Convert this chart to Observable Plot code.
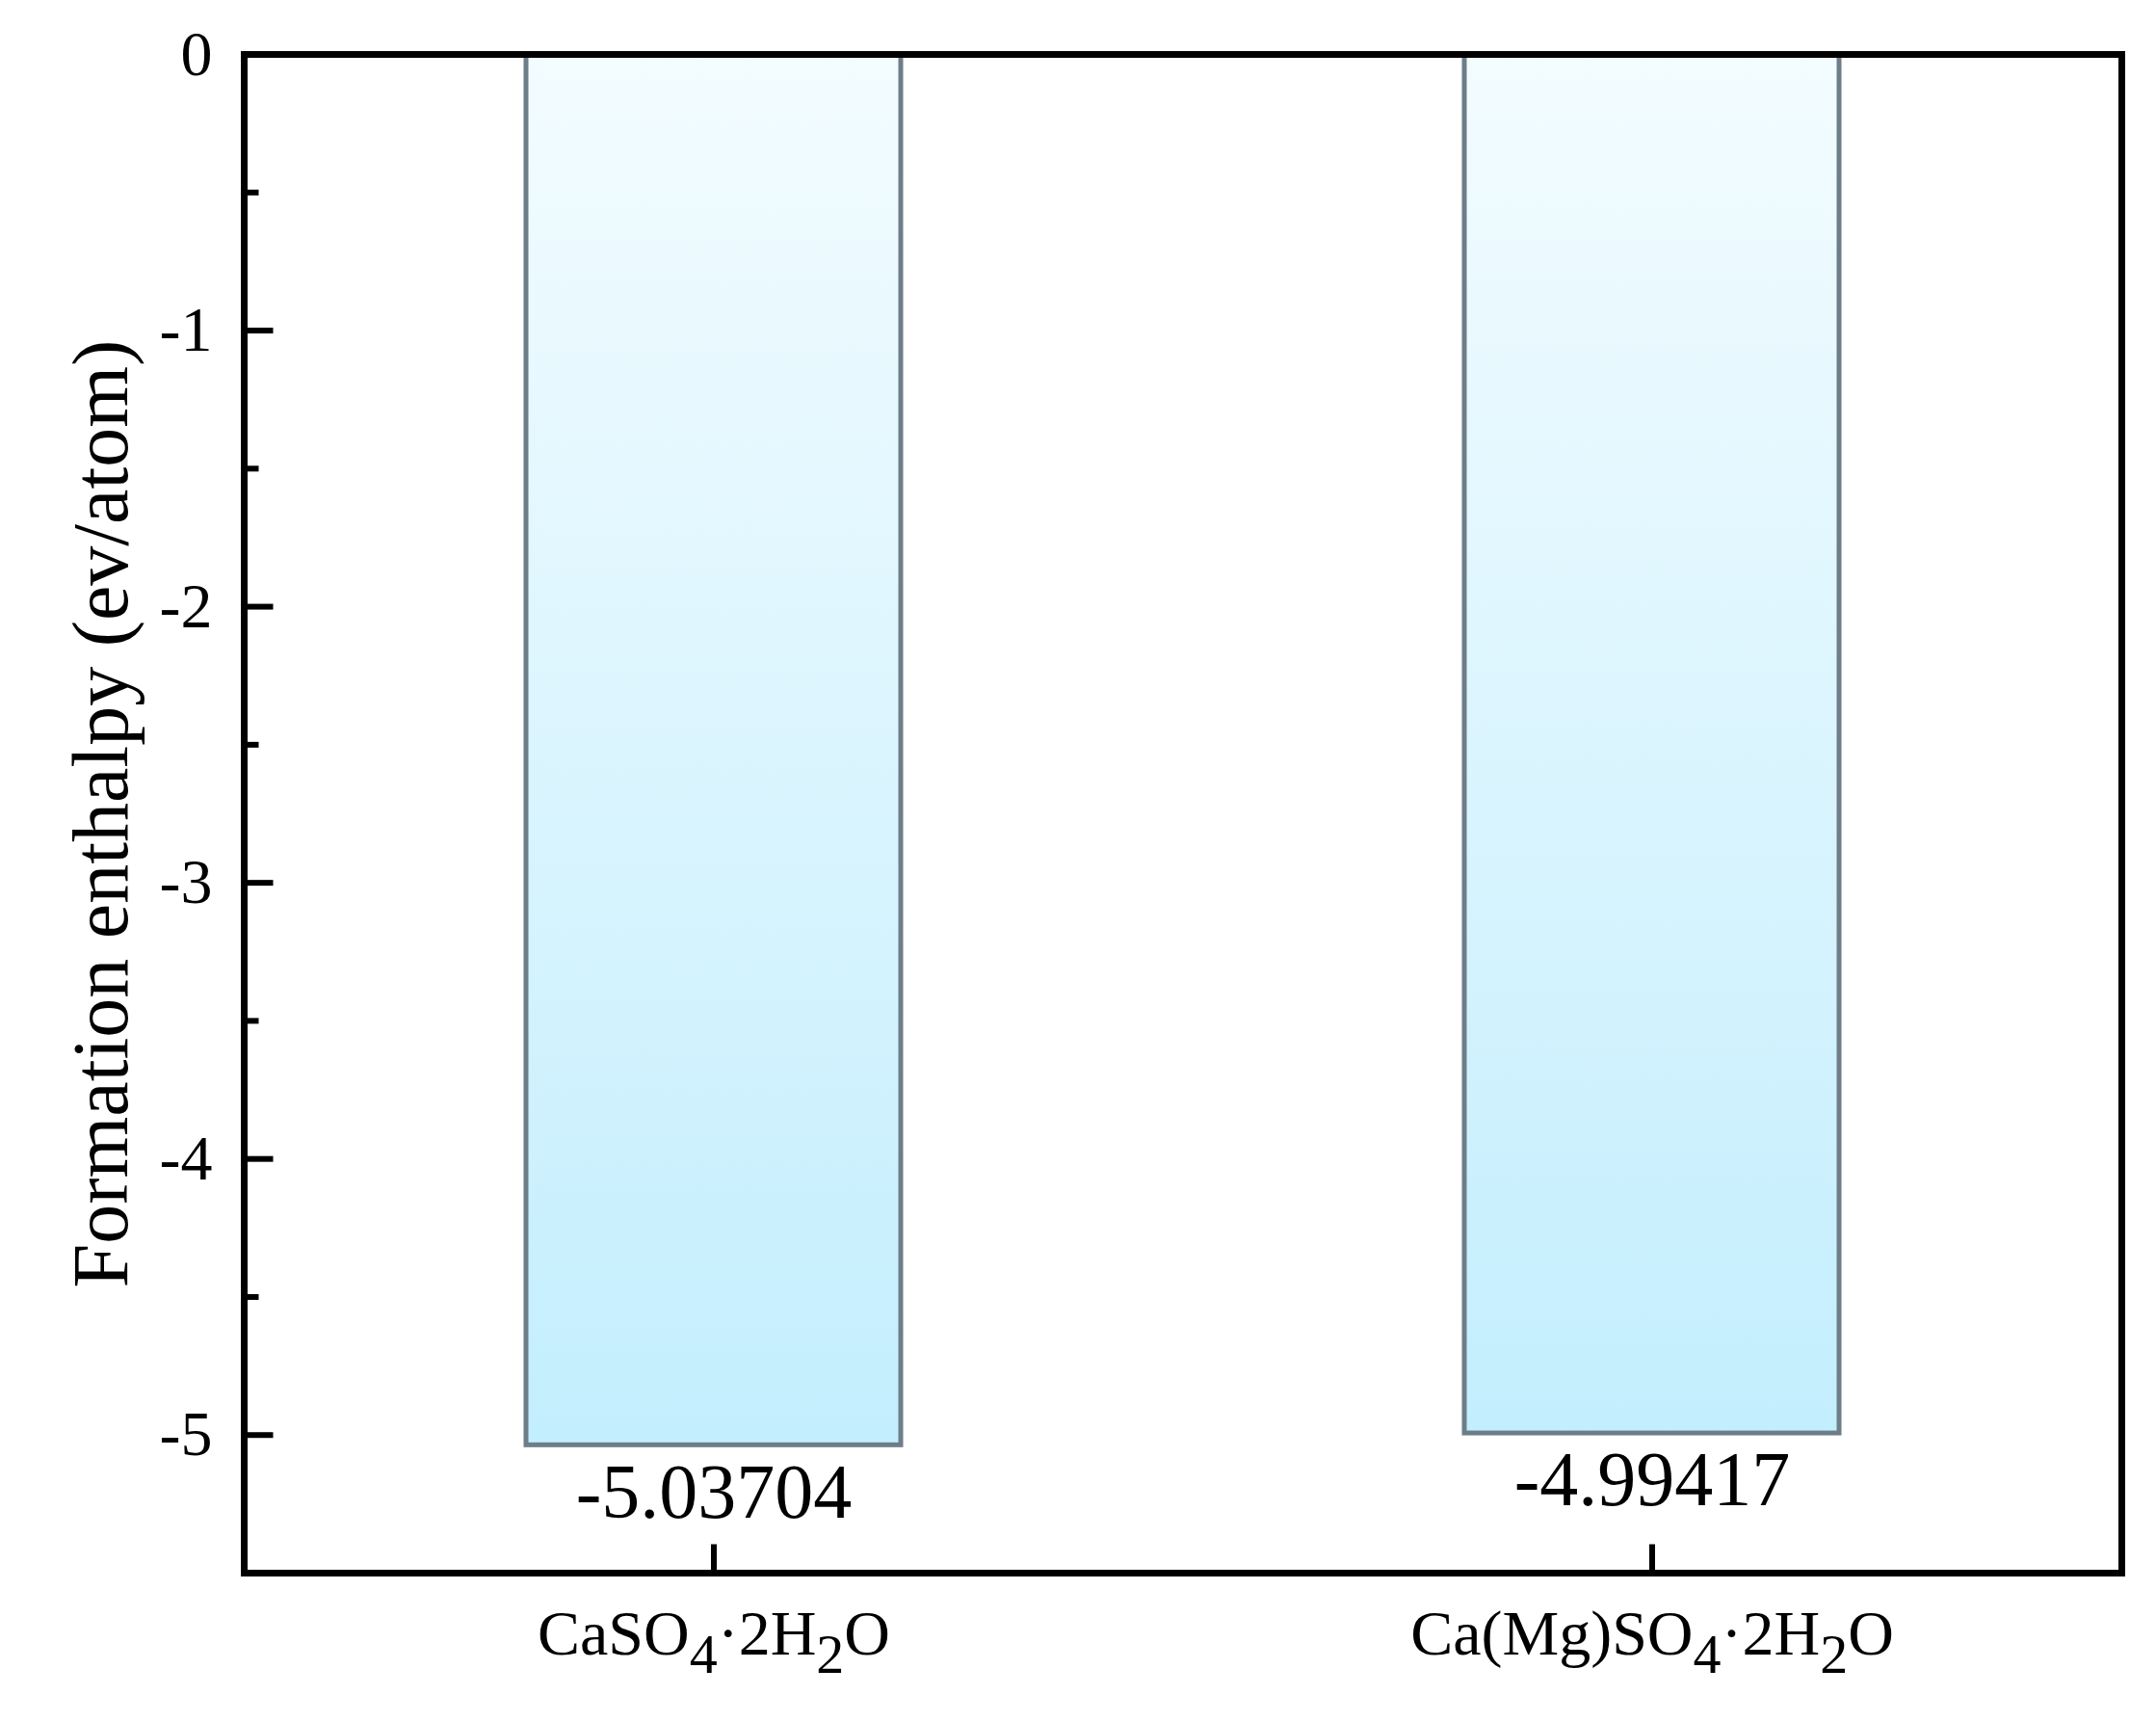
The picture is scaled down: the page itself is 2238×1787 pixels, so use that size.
<!DOCTYPE html>
<html>
<head>
<meta charset="utf-8">
<script src="https://cdn.jsdelivr.net/npm/d3@7"></script>
<script src="https://cdn.jsdelivr.net/npm/@observablehq/plot@0.6"></script>
<style>
  html, body { margin: 0; padding: 0; background: #fff; }
  #chart svg { display: block; }
</style>
</head>
<body>
<div id="chart"></div>
<script>
// ---- data ----
const categories = ["CaSO4·2H2O", "Ca(Mg)SO4·2H2O"];
const values = [-5.03704, -4.99417];
const valueLabels = ["-5.03704", "-4.99417"];
const yTicks = [0, -1, -2, -3, -4, -5];
const yMinorTicks = [-0.5, -1.5, -2.5, -3.5, -4.5];
const yDomain = [-5.5, 0];
const yTitle = "Formation enthalpy (ev/atom)";

const bars = categories.map((name, i) => ({name, value: values[i], label: valueLabels[i]}));

// custom tick symbols (inward ticks)
const rightTick = len => ({draw(ctx) { ctx.moveTo(0, 0); ctx.lineTo(len, 0); }});
const upTick = len => ({draw(ctx) { ctx.moveTo(0, 0); ctx.lineTo(0, -len); }});

const W = 2238, H = 1787;
const chart = Plot.plot({
  width: W,
  height: H,
  marginLeft: 253,
  marginRight: 36,
  marginTop: 56,
  marginBottom: 155,
  style: {fontFamily: "'Liberation Serif', 'Times New Roman', serif", background: "#fff", color: "#000"},
  x: {domain: categories, paddingInner: 0.601, paddingOuter: 0.3005},
  y: {domain: yDomain},
  marks: [
    Plot.barY(bars, {
      x: "name", y1: 0, y2: "value",
      fill: "url(#barGrad)", stroke: "#6e7e88", strokeWidth: 5
    }),
    Plot.text(bars, {
      x: "name", y: "value", text: "label",
      lineAnchor: "top", dy: 18, fontSize: 80, fill: "#000"
    }),
    Plot.dot(yTicks, {y: d => d, frameAnchor: "left", symbol: rightTick(30), fill: "none", stroke: "#000", strokeWidth: 6}),
    Plot.dot(yMinorTicks, {y: d => d, frameAnchor: "left", symbol: rightTick(15), fill: "none", stroke: "#000", strokeWidth: 6}),
    Plot.dot(categories, {x: d => d, frameAnchor: "bottom", symbol: upTick(30), fill: "none", stroke: "#000", strokeWidth: 6}),
    Plot.axisY({ticks: yTicks, tickSize: 0, tickPadding: 33, fontSize: 66, tickFormat: d => String(d), label: null}),
    Plot.axisX({tickSize: 0, tickPadding: 38, fontSize: 66, label: null}),
    Plot.text([yTitle], {frameAnchor: "left", rotate: -90, dx: -180, textAnchor: "middle", lineAnchor: "top", fontSize: 82, fill: "#000"}),
    Plot.frame({stroke: "#000", strokeWidth: 7})
  ]
});

// gradient definition
const svg = d3.select(chart);
const defs = svg.insert("defs", ":first-child");
const grad = defs.append("linearGradient")
  .attr("id", "barGrad").attr("x1", 0).attr("y1", 0).attr("x2", 0).attr("y2", 1);
grad.append("stop").attr("offset", "0%").attr("stop-color", "#f3fcff");
grad.append("stop").attr("offset", "100%").attr("stop-color", "#c3eefd");

// chemical subscripts in x tick labels
svg.selectAll('g[aria-label="x-axis tick label"] text').each(function() {
  const t = d3.select(this);
  const s = this.textContent;
  t.text(null);
  const re = /([A-Za-z\)])(\d+)/g;
  let last = 0, m;
  const parts = [];
  while ((m = re.exec(s)) !== null) {
    const idx = m.index + m[1].length;
    parts.push({txt: s.slice(last, idx), sub: false});
    parts.push({txt: m[2], sub: true});
    last = idx + m[2].length;
  }
  parts.push({txt: s.slice(last), sub: false});
  let shifted = false;
  for (const p of parts) {
    if (!p.txt) continue;
    const ts = t.append("tspan").text(p.txt);
    if (p.sub) { ts.attr("font-size", 58).attr("dy", 19); shifted = true; }
    else if (shifted) { ts.attr("dy", -19); shifted = false; }
  }
});

document.getElementById("chart").appendChild(chart);
</script>
</body>
</html>
